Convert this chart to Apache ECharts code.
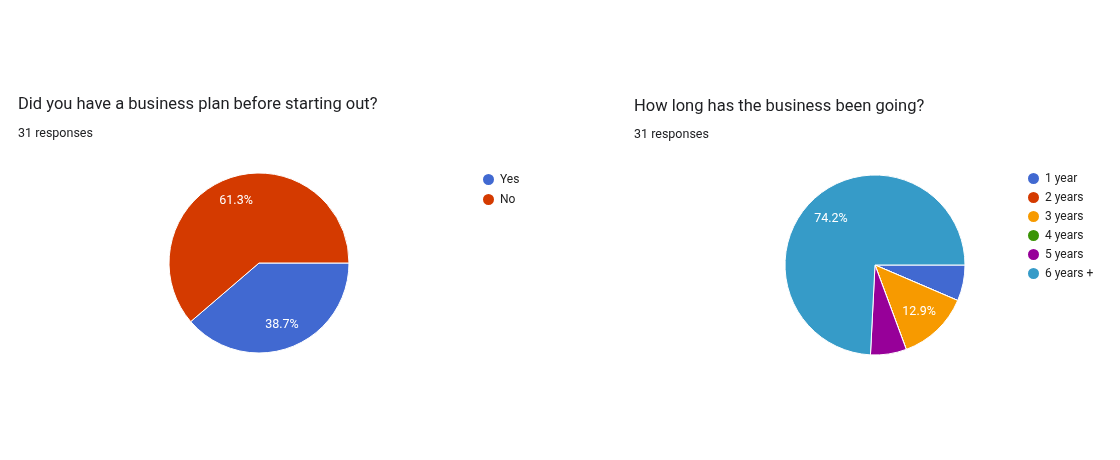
<!DOCTYPE html>
<html>
<head>
<meta charset="utf-8">
<script src="https://cdn.jsdelivr.net/npm/echarts@6/dist/echarts.min.js"></script>
<style>
  html, body { margin: 0; padding: 0; background: #fff; }
  #chart { width: 1120px; height: 460px; }
</style>
</head>
<body>
<div id="chart"></div>
<script>
// Q1: business plan
var planNames = ['Yes', 'No'];
var planValues = [12, 19];
var planColors = ['#4169d1', '#d43a00'];

// Q2: how long
var yearNames = ['1 year', '2 years', '3 years', '4 years', '5 years', '6 years +'];
var yearValues = [2, 0, 4, 0, 2, 23];
var yearColors = ['#4169d1', '#d43a00', '#f79a00', '#3a9405', '#970099', '#369bc8'];

var FONT = 'Roboto, Arial, sans-serif';

function pieData(names, values, colors) {
    return names.map(function (n, i) {
        var d = {name: n, value: values[i]};
        if (colors) d.itemStyle = {color: colors[i]};
        return d;
    });
}

// draws the slices
function slices(names, values, colors, center) {
    return {
        type: 'pie',
        center: center,
        radius: [0, 90],
        startAngle: 0,
        clockwise: true,
        avoidLabelOverlap: false,
        percentPrecision: 1,
        itemStyle: {borderColor: '#fff', borderWidth: 1},
        label: {show: false},
        labelLine: {show: false},
        emphasis: {scale: false},
        data: pieData(names, values, colors)
    };
}

// invisible ring, only used to put the % labels further out
function labels(names, values, center, inner) {
    return {
        type: 'pie',
        silent: true,
        center: center,
        radius: [inner, 90],
        startAngle: 0,
        clockwise: true,
        avoidLabelOverlap: false,
        percentPrecision: 1,
        itemStyle: {color: 'rgba(0,0,0,0)', borderWidth: 0},
        label: {
            show: true,
            position: 'inside',
            color: '#fff',
            fontFamily: FONT,
            fontSize: 12.5,
            formatter: function (p) {
                return p.percent >= 10 ? p.percent.toFixed(1) + '%' : '';
            }
        },
        labelLine: {show: false},
        data: pieData(names, values)
    };
}

var chart = echarts.init(document.getElementById('chart'));

var option = {
    backgroundColor: '#fff',
    animation: false,
    title: [
        {text: 'Did you have a business plan before starting out?', left: 13, top: 91,
            textStyle: {fontFamily: FONT, fontSize: 16.5, fontWeight: 'normal', color: '#202124'}},
        {text: '31 responses', left: 13, top: 122,
            textStyle: {fontFamily: FONT, fontSize: 12.5, fontWeight: 'normal', color: '#202124'}},
        {text: 'How long has the business been going?', left: 629, top: 93,
            textStyle: {fontFamily: FONT, fontSize: 16.5, fontWeight: 'normal', color: '#202124'}},
        {text: '31 responses', left: 629, top: 123,
            textStyle: {fontFamily: FONT, fontSize: 12.5, fontWeight: 'normal', color: '#202124'}}
    ],
    legend: [
        {
            orient: 'vertical', left: 481, top: 172, padding: 0,
            icon: 'circle', itemWidth: 13, itemHeight: 13, itemGap: 5,
            textStyle: {fontFamily: FONT, fontSize: 12, color: '#222'},
            data: planNames
        },
        {
            orient: 'vertical', left: 1026, top: 171, padding: 0,
            icon: 'circle', itemWidth: 13, itemHeight: 13, itemGap: 4,
            textStyle: {fontFamily: FONT, fontSize: 12, color: '#222'},
            data: yearNames
        }
    ],
    series: [
        slices(planNames, planValues, planColors, [259, 263]),
        slices(yearNames, yearValues, yearColors, [875, 265]),
        labels(planNames, planValues, [259, 263], 36),
        labels(yearNames, yearValues, [875, 265], 32)
    ]
};

chart.setOption(option);
</script>
</body>
</html>
